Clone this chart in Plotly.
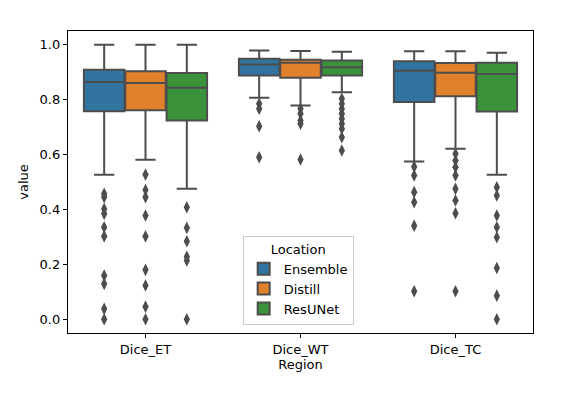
import plotly.graph_objects as go

regions = ["Dice_ET", "Dice_WT", "Dice_TC"]
models = ["Ensemble", "Distill", "ResUNet"]
colors = ["#3274a1", "#e1812c", "#3a923a"]

q1 = {
    "Ensemble": [0.758, 0.888, 0.791],
    "Distill": [0.761, 0.880, 0.812],
    "ResUNet": [0.724, 0.888, 0.757],
}
median = {
    "Ensemble": [0.864, 0.928, 0.905],
    "Distill": [0.861, 0.934, 0.898],
    "ResUNet": [0.843, 0.918, 0.893],
}
q3 = {
    "Ensemble": [0.909, 0.949, 0.940],
    "Distill": [0.903, 0.945, 0.933],
    "ResUNet": [0.897, 0.943, 0.934],
}
lower_whisker = {
    "Ensemble": [0.526, 0.807, 0.575],
    "Distill": [0.581, 0.779, 0.621],
    "ResUNet": [0.475, 0.827, 0.526],
}
upper_whisker = {
    "Ensemble": [1.0, 0.979, 0.976],
    "Distill": [1.0, 0.977, 0.976],
    "ResUNet": [1.0, 0.974, 0.971],
}
outliers = {
    "Ensemble": [
        [0.457, 0.445, 0.402, 0.384, 0.335, 0.302, 0.159, 0.129, 0.038, 0.0],
        [0.785, 0.767, 0.703, 0.590],
        [0.556, 0.524, 0.463, 0.426, 0.341, 0.102],
    ],
    "Distill": [
        [0.527, 0.471, 0.445, 0.378, 0.302, 0.180, 0.123, 0.046, 0.0],
        [0.767, 0.749, 0.724, 0.712, 0.582],
        [0.603, 0.578, 0.554, 0.524, 0.475, 0.433, 0.386, 0.102],
    ],
    "ResUNet": [
        [0.408, 0.333, 0.284, 0.228, 0.214, 0.0],
        [0.803, 0.785, 0.767, 0.749, 0.730, 0.712, 0.694, 0.663, 0.615],
        [0.481, 0.451, 0.378, 0.335, 0.299, 0.187, 0.086, 0.0],
    ],
}

yticks = [0.0, 0.2, 0.4, 0.6, 0.8, 1.0]

line_gray = "#4d4d4d"
font = dict(family="DejaVu Sans", size=13, color="black")
group_width = 0.8
hue_width = group_width / len(models)

fig = go.Figure()
for h, (m, c) in enumerate(zip(models, colors)):
    offset = -group_width / 2 + hue_width * (h + 0.5)
    xs = [i + offset for i in range(len(regions))]
    fig.add_trace(go.Box(
        name=m,
        x=xs,
        q1=q1[m], median=median[m], q3=q3[m],
        lowerfence=lower_whisker[m], upperfence=upper_whisker[m],
        width=hue_width * 0.98,
        whiskerwidth=0.5,
        fillcolor=c,
        line=dict(color=line_gray, width=2),
        boxpoints=False,
        showlegend=True,
        hoverinfo="skip",
    ))
    ox, oy = [], []
    for i, vals in enumerate(outliers[m]):
        ox += [xs[i]] * len(vals)
        oy += vals
    fig.add_trace(go.Scatter(
        x=ox, y=oy, mode="markers",
        marker=dict(symbol="diamond-tall", size=9, color=line_gray,
                    line=dict(width=0)),
        showlegend=False, hoverinfo="skip",
    ))

fig.update_layout(
    width=567, height=397,
    margin=dict(l=68, r=34, t=31, b=64, autoexpand=False),
    paper_bgcolor="white", plot_bgcolor="white",
    font=font,
    legend=dict(
        title=dict(text="Location", side="top center", font=font),
        x=0.495, xanchor="center", y=0.027, yanchor="bottom",
        bgcolor="white", bordercolor="#cccccc", borderwidth=1,
        font=font, tracegroupgap=0, itemwidth=30,
    ),
)
fig.update_xaxes(
    range=[-0.5, 2.5], automargin=False,
    tickmode="array", tickvals=list(range(len(regions))), ticktext=regions,
    showgrid=False, zeroline=False,
    showline=True, mirror=True, linecolor="black", linewidth=1.3,
    ticks="outside", ticklen=4, tickcolor="black", tickwidth=1,
    tickfont=font,
    title=dict(text="Region", standoff=4, font=font),
)
fig.update_yaxes(
    range=[-0.05, 1.05], automargin=False,
    tickmode="array", tickvals=yticks, ticktext=[f"{v:.1f}" for v in yticks],
    showgrid=False, zeroline=False,
    showline=True, mirror=True, linecolor="black", linewidth=1.3,
    ticks="outside", ticklen=4, tickcolor="black", tickwidth=1,
    tickfont=font,
    title=dict(text="value", standoff=8, font=font),
)

fig.write_html("out.html", config={"displayModeBar": False},
               post_script="document.body.style.margin='0';")
